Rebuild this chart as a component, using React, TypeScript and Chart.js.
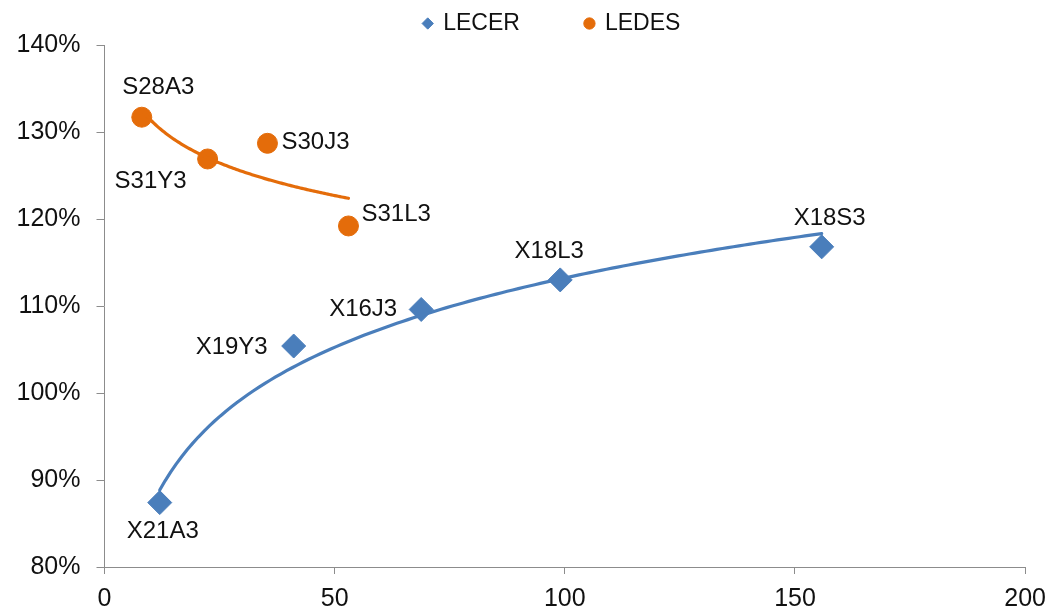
import React, { useEffect, useRef } from "react";
import { Chart, registerables } from "chart.js";

Chart.register(...registerables);

// ---- data ----
const SERIES_NAMES = ["LECER", "LEDES"];

const LECER_LABELS = ["X21A3", "X19Y3", "X16J3", "X18L3", "X18S3"];
const LECER_X = [12.0, 41.1, 68.8, 99.0, 155.8];
const LECER_Y = [87.4, 105.4, 109.6, 113.0, 116.8];

const LEDES_LABELS = ["S28A3", "S31Y3", "S30J3", "S31L3"];
const LEDES_X = [8.1, 22.4, 35.4, 53.0];
const LEDES_Y = [131.7, 126.9, 128.7, 119.2];

const X_TICKS = [0, 50, 100, 150, 200];
const Y_TICKS = [80, 90, 100, 110, 120, 130, 140];

// ---- styling ----
const BLUE = "#4A7EBB";
const ORANGE = "#E46C0A";
const AXIS = "#8C8C8C";
const FONT = "'Liberation Sans', Arial, sans-serif";

type LabelPos = { dx: number; dy: number; align: CanvasTextAlign };
const LECER_LABEL_POS: LabelPos[] = [
  { dx: 3, dy: 29, align: "center" },
  { dx: -26, dy: 1, align: "right" },
  { dx: -24, dy: 0, align: "right" },
  { dx: -11, dy: -29, align: "center" },
  { dx: 8, dy: -28, align: "center" },
];
const LEDES_LABEL_POS: LabelPos[] = [
  { dx: 16.5, dy: -29.5, align: "center" },
  { dx: -57, dy: 22, align: "center" },
  { dx: 14, dy: -1, align: "left" },
  { dx: 13, dy: -12, align: "left" },
];

const trendlinePlugin = {
  id: "logTrend",
  afterDatasetsDraw(chart: any) {
    const { ctx, scales } = chart;
    chart.data.datasets.forEach((ds: any) => {
      const pts = ds.data as { x: number; y: number }[];
      const n = pts.length;
      const lx = pts.map((p) => Math.log(p.x));
      const mx = lx.reduce((a, b) => a + b, 0) / n;
      const my = pts.reduce((a, p) => a + p.y, 0) / n;
      let sxy = 0;
      let sxx = 0;
      for (let i = 0; i < n; i++) {
        sxy += (lx[i] - mx) * (pts[i].y - my);
        sxx += (lx[i] - mx) * (lx[i] - mx);
      }
      const b = sxy / sxx;
      const a = my - b * mx;
      const xs = pts.map((p) => p.x);
      const x0 = Math.min(...xs);
      const x1 = Math.max(...xs);
      ctx.save();
      ctx.beginPath();
      const steps = 120;
      for (let s = 0; s <= steps; s++) {
        const xv = x0 + ((x1 - x0) * s) / steps;
        const yv = a + b * Math.log(xv);
        const px = scales.x.getPixelForValue(xv);
        const py = scales.y.getPixelForValue(yv);
        if (s === 0) ctx.moveTo(px, py);
        else ctx.lineTo(px, py);
      }
      ctx.strokeStyle = ds.borderColor;
      ctx.lineWidth = 3.2;
      ctx.lineJoin = "round";
      ctx.lineCap = "round";
      ctx.stroke();
      ctx.restore();
    });
  },
};

const pointLabelPlugin = {
  id: "pointLabels",
  afterDatasetsDraw(chart: any) {
    const { ctx } = chart;
    const groups = [
      { labels: LECER_LABELS, pos: LECER_LABEL_POS },
      { labels: LEDES_LABELS, pos: LEDES_LABEL_POS },
    ];
    ctx.save();
    ctx.font = `24px ${FONT}`;
    ctx.fillStyle = "#111";
    ctx.textBaseline = "middle";
    groups.forEach((g, di) => {
      const meta = chart.getDatasetMeta(di);
      meta.data.forEach((el: any, i: number) => {
        const p = g.pos[i];
        ctx.textAlign = p.align;
        ctx.fillText(g.labels[i], el.x + p.dx, el.y + p.dy);
      });
    });
    ctx.restore();
  },
};

export default function App() {
  const ref = useRef<HTMLCanvasElement | null>(null);

  useEffect(() => {
    if (!ref.current) return;
    const chart = new Chart(ref.current, {
      type: "scatter",
      data: {
        datasets: [
          {
            label: SERIES_NAMES[0],
            data: LECER_X.map((x, i) => ({ x, y: LECER_Y[i] })),
            pointStyle: "rectRot",
            pointRadius: 12,
            backgroundColor: BLUE,
            borderColor: BLUE,
            borderWidth: 1,
          },
          {
            label: SERIES_NAMES[1],
            data: LEDES_X.map((x, i) => ({ x, y: LEDES_Y[i] })),
            pointStyle: "circle",
            pointRadius: 10,
            backgroundColor: ORANGE,
            borderColor: ORANGE,
            borderWidth: 1,
          },
        ],
      },
      options: {
        responsive: false,
        animation: false,
        layout: { padding: { left: 0, right: 28, top: 4, bottom: 0 } },
        plugins: {
          tooltip: { enabled: false },
          legend: {
            display: true,
            position: "top",
            fullSize: false,
            labels: {
              usePointStyle: true,
              boxWidth: 8,
              boxHeight: 8,
              padding: 8,
              color: "#111",
              font: { family: FONT, size: 23 },
              generateLabels: (chart: any) => {
                const items = Chart.defaults.plugins.legend.labels.generateLabels(chart);
                return items.map((it: any, i: number) => ({
                  ...it,
                  text: i === 0 ? it.text + "         " : it.text + "    ",
                }));
              },
            },
          },
        },
        scales: {
          x: {
            type: "linear",
            min: X_TICKS[0],
            max: X_TICKS[X_TICKS.length - 1],
            afterBuildTicks: (axis: any) => {
              axis.ticks = X_TICKS.map((v) => ({ value: v }));
            },
            afterFit: (axis: any) => {
              axis.height = 44;
            },
            grid: {
              display: true,
              drawOnChartArea: false,
              drawTicks: true,
              tickLength: 7,
              color: AXIS,
            },
            border: { display: true, color: AXIS, width: 1 },
            ticks: {
              padding: 10,
              color: "#111",
              font: { family: FONT, size: 25 },
              maxRotation: 0,
            },
          },
          y: {
            type: "linear",
            min: Y_TICKS[0],
            max: Y_TICKS[Y_TICKS.length - 1],
            afterBuildTicks: (axis: any) => {
              axis.ticks = Y_TICKS.map((v) => ({ value: v }));
            },
            afterFit: (axis: any) => {
              axis.width = 104.5;
            },
            grid: {
              display: true,
              drawOnChartArea: false,
              drawTicks: true,
              tickLength: 8,
              color: AXIS,
            },
            border: { display: true, color: AXIS, width: 1 },
            ticks: {
              padding: 16,
              color: "#111",
              font: { family: FONT, size: 25 },
              callback: (v: any) => `${v}%`,
            },
          },
        },
      },
      plugins: [trendlinePlugin, pointLabelPlugin],
    });
    return () => chart.destroy();
  }, []);

  return (
    <div style={{ position: "absolute", left: 0, top: 0, width: 1056, height: 611, background: "#fff" }}>
      <canvas ref={ref} width={1056} height={611} style={{ display: "block" }} />
    </div>
  );
}
